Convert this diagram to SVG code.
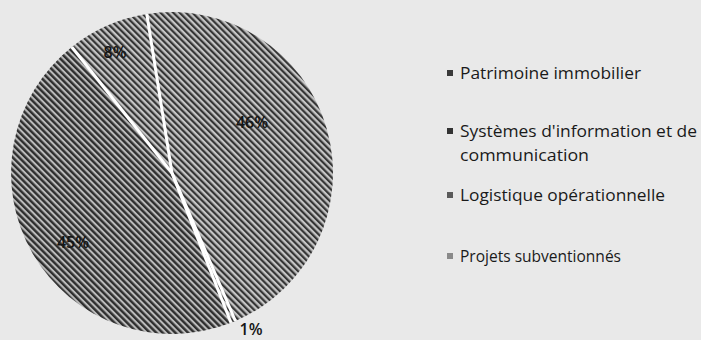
<svg xmlns="http://www.w3.org/2000/svg" width="701" height="340" viewBox="0 0 701 340">
  <style>
    .lbl { font-family: "Open Sans", "Liberation Sans", sans-serif; font-size: 16px; font-weight: 600; fill: #151515; text-anchor: middle; }
    .leg { font-family: "Open Sans", "Liberation Sans", sans-serif; font-size: 16px; fill: #1a1a1a; }
    .sep { stroke: #ffffff; stroke-width: 3; stroke-linecap: butt; fill: none; }
  </style>
  <defs>
    <pattern id="hatchA" width="4.5" height="4.5" patternUnits="userSpaceOnUse" patternTransform="rotate(-45)">
      <rect width="4.5" height="4.5" fill="#c4c4c4"/>
      <rect width="2.2" height="4.5" fill="#353535"/>
    </pattern>
    <pattern id="hatchB" width="4.5" height="4.5" patternUnits="userSpaceOnUse" patternTransform="rotate(-45)">
      <rect width="4.5" height="4.5" fill="#bababa"/>
      <rect width="2.4" height="4.5" fill="#2e2e2e"/>
    </pattern>
  </defs>
  <rect width="701" height="340" fill="#e9e9e9"/>

  <g id="pie">
    <g id="slice-patrimoine"><path d="M172,173 L146.8,14 A161,161 0 0 1 235.4,321 Z" fill="url(#hatchA)"/></g>
    <g id="slice-projets"><path d="M172,173 L235.4,321 A161,161 0 0 1 231,322.8 Z" fill="url(#hatchA)"/></g>
    <g id="slice-logistique"><path d="M172,173 L231,322.8 A161,161 0 0 1 71.8,47 Z" fill="url(#hatchB)"/></g>
    <g id="slice-si"><path d="M172,173 L71.8,47 A161,161 0 0 1 146.8,14 Z" fill="url(#hatchA)"/></g>
  </g>

  <g id="separators">
    <line class="sep" x1="172" y1="173" x2="146.8" y2="14"/>
    <line class="sep" x1="172" y1="173" x2="235.4" y2="321"/>
    <line class="sep" x1="172" y1="173" x2="231" y2="322.8"/>
    <line class="sep" x1="172" y1="173" x2="71.8" y2="47"/>
  </g>

  <g id="labels">
    <text class="lbl" x="252" y="128">46%</text>
    <text class="lbl" x="115" y="58">8%</text>
    <text class="lbl" x="73" y="248">45%</text>
    <text class="lbl" x="251" y="335" font-size="13">1%</text>
  </g>

  <g id="legend">
    <g id="leg-patrimoine">
      <rect x="447" y="70" width="6" height="6" fill="#3a3a3a"/>
      <text class="leg" x="460" y="79" textLength="181" lengthAdjust="spacingAndGlyphs">Patrimoine immobilier</text>
    </g>
    <g id="leg-si">
      <rect x="447" y="128" width="6" height="6" fill="#333333"/>
      <text class="leg" x="460" y="137" textLength="237" lengthAdjust="spacingAndGlyphs">Systèmes d'information et de</text>
      <text class="leg" x="460" y="161" textLength="129" lengthAdjust="spacingAndGlyphs">communication</text>
    </g>
    <g id="leg-logistique">
      <rect x="447" y="192" width="6" height="6" fill="#5a5a5a"/>
      <text class="leg" x="460" y="201" textLength="205" lengthAdjust="spacingAndGlyphs">Logistique opérationnelle</text>
    </g>
    <g id="leg-projets">
      <rect x="447" y="253" width="6" height="6" fill="#8a8a8a"/>
      <text class="leg" x="460" y="262" textLength="161" lengthAdjust="spacingAndGlyphs">Projets subventionnés</text>
    </g>
  </g>
</svg>
